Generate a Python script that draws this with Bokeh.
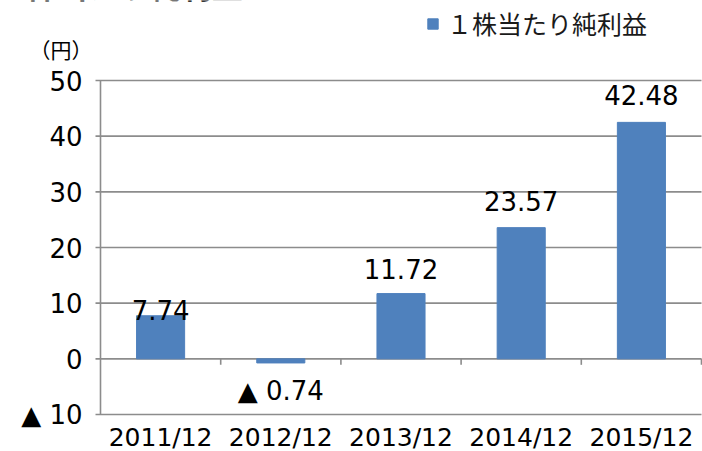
from bokeh.plotting import figure
from bokeh.models import (ColumnDataSource, Range1d, Label, Legend, LegendItem)
from bokeh.core.properties import value
from bokeh.embed import file_html
from bokeh.resources import INLINE

categories = ["2011/12", "2012/12", "2013/12", "2014/12", "2015/12"]
eps = [7.74, -0.74, 11.72, 23.57, 42.48]
y_ticks = [-10, 0, 10, 20, 30, 40, 50]
y_tick_labels = ["▲ 10", "0", "10", "20", "30", "40", "50"]
series_name = "１株当たり純利益"
title_text = "1株当たり純利益"
unit_label = "（円）"

# ---- layout (pixels) ----
W, H = 702, 451
PLOT_L, PLOT_R, PLOT_T, PLOT_B = 100, 701, 80, 414
y_lo, y_hi = y_ticks[0], y_ticks[-1]
n = len(categories)
px_y = (PLOT_B - PLOT_T) / (y_hi - y_lo)
px_x = (PLOT_R - PLOT_L) / n
yr = Range1d(y_lo - (H - PLOT_B) / px_y, y_hi + PLOT_T / px_y)
xr = Range1d(-PLOT_L / px_x, n + (W - PLOT_R) / px_x)

NUM_FONT = "DejaVu Sans"
JP_FONT = "Noto Sans CJK JP"
BAR = "#4F81BD"
GRID = "#8c8c8c"
LW = 1.6

def fmt(v):
    return ("▲ %.2f" % abs(v)) if v < 0 else ("%.2f" % v)

label_offsets = [6, -28, 25, 27, 27]   # px, up positive
centers = [i + 0.5 for i in range(n)]

p = figure(width=W, height=H, output_backend="svg", toolbar_location=None,
           x_range=xr, y_range=yr, x_axis_type=None, y_axis_type=None,
           min_border=0)
p.outline_line_color = None
p.grid.visible = False
p.background_fill_color = "white"

# gridlines (including -10 and 0) with the left tick stub
tick_out = 5 / px_x
p.segment(x0=[-tick_out] * len(y_ticks), x1=[n] * len(y_ticks), y0=y_ticks, y1=y_ticks,
          line_color=GRID, line_width=LW)
# vertical axis line
p.segment(x0=[0], x1=[0], y0=[y_lo], y1=[y_hi], line_color=GRID, line_width=LW)
# category boundary ticks below the zero line
tick_len = 6 / px_y
p.segment(x0=[i + 1 for i in range(n)], x1=[i + 1 for i in range(n)],
          y0=[0] * n, y1=[-tick_len] * n, line_color=GRID, line_width=LW)

src = ColumnDataSource(dict(x=centers, top=eps, cat=categories,
                            txt=[fmt(v) for v in eps],
                            yoff=[-o for o in label_offsets]))
r = p.vbar(x="x", top="top", width=0.4, source=src, color=BAR)

# data labels
p.text(x="x", y="top", text="txt", y_offset="yoff", source=src,
       text_align="center", text_baseline="middle",
       text_font=value(NUM_FONT), text_font_size="26px", text_color="black")

# y tick labels
p.text(x=[0] * len(y_ticks), y=y_ticks, text=y_tick_labels, x_offset=-18,
       text_align="right", text_baseline="middle",
       text_font=value(NUM_FONT), text_font_size="26px", text_color="black")

# x category labels
p.text(x=centers, y=[y_lo] * n, text=categories, y_offset=23,
       text_align="center", text_baseline="middle",
       text_font=value(NUM_FONT), text_font_size="25px", text_color="black")

p.add_layout(Label(x=29, y=48, x_units="canvas", y_units="canvas", text=unit_label,
                   text_font=JP_FONT, text_font_size="21px", text_color="black",
                   text_baseline="middle"))

p.add_layout(Label(x=7, y=-16, x_units="canvas", y_units="canvas", text=title_text,
                   text_font=JP_FONT, text_font_size="31px", text_font_style="bold",
                   text_color="black", text_baseline="alphabetic"))

legend = Legend(items=[LegendItem(label=series_name, renderers=[r])],
                location=(426, H - 41), glyph_width=13, glyph_height=13, label_standoff=8,
                padding=0, margin=0, border_line_color=None, background_fill_alpha=0,
                label_text_font=JP_FONT, label_text_font_size="25px", label_text_color="#1a1a1a")
p.add_layout(legend)

open("out.html", "w").write(file_html(p, INLINE))
